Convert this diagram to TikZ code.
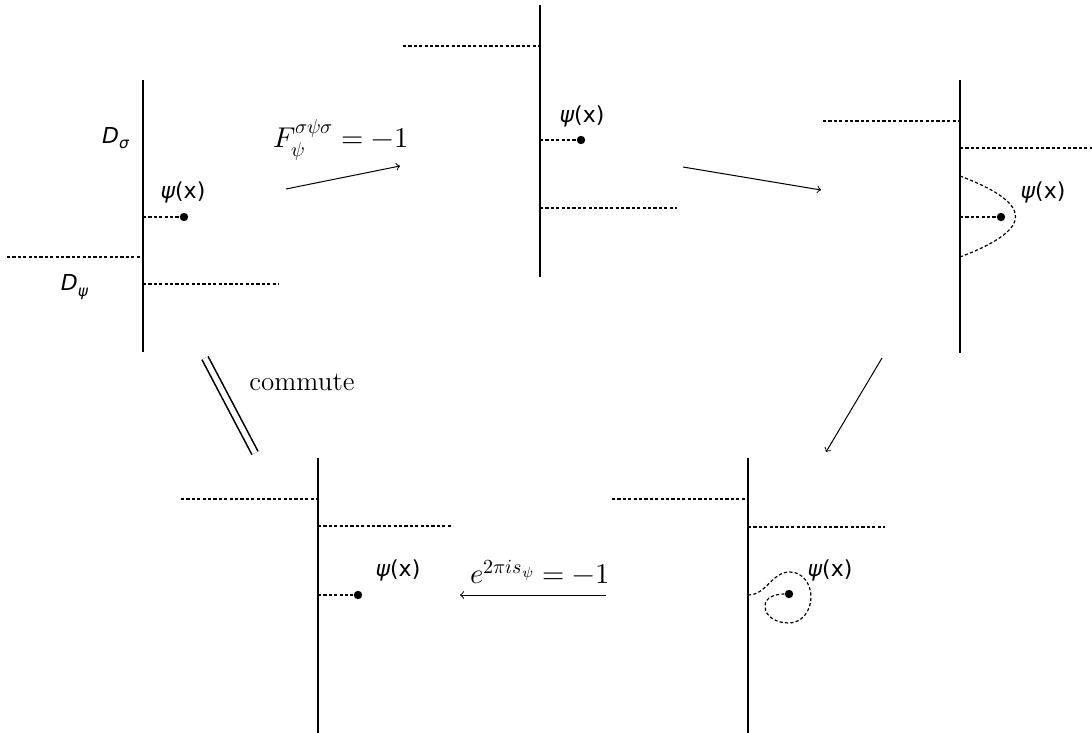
\documentclass[tikz,border=0pt]{standalone}
\usepackage{amsmath}
\usepackage{fontspec}
\usepackage{unicode-math}
\setmathfont{Latin Modern Math}
\newfontfamily\lblfont{DejaVu Sans}
\usetikzlibrary{calc}
\newcommand{\psix}{{\itshape ψ}(x)}
\newcommand{\dlbl}[1]{{\itshape D\textsubscript{#1}}}
\tikzset{
    wall/.style={line width=0.9pt},
    cut/.style={line width=0.6pt, dash pattern=on 1.6pt off 1.1pt},
    point/.style={circle, fill, inner sep=0pt, minimum size=4.2pt},
    move/.style={->, line width=0.5pt},
    lbl/.style={font=\lblfont\fontsize{11}{13}\selectfont, inner sep=0pt},
    eq/.style={font=\fontsize{14.3}{16}\selectfont, inner sep=0pt},
    word/.style={font=\fontsize{13.5}{15}\selectfont, inner sep=0pt}
}
\begin{document}
\begin{tikzpicture}[x=0.5pt, y=-0.5pt]
      \useasboundingbox (0,0) rectangle (1092,733);

      % first panel
      \path
          (143,80) coordinate (a-top)
          +(0,272) coordinate (a-bot)
          +(-136,177) coordinate (a-left)
          +(0,177) coordinate (a-left-end)
          +(0,204) coordinate (a-right)
          +(136,204) coordinate (a-right-end)
          +(0,137) coordinate (a-stem)
          +(41,137) node[point] (a-psi) {}
          +(40,112) node[lbl] (a-psi-label) {\psix}
          +(-27,58) node[lbl] (a-dsigma) {\dlbl{σ}}
          +(-68,207) node[lbl] (a-dpsi) {\dlbl{ψ}};

      \draw[wall] (a-top) -- (a-bot);
      \draw[cut] (a-left) -- (a-left-end) (a-right) -- (a-right-end) (a-stem) -- (a-psi);

      % second panel
      \path
          (540,5) coordinate (b-top)
          +(0,272) coordinate (b-bot)
          +(-137,41) coordinate (b-left)
          +(0,41) coordinate (b-left-end)
          +(0,203) coordinate (b-right)
          +(137,203) coordinate (b-right-end)
          +(0,135) coordinate (b-stem)
          +(41,135) node[point] (b-psi) {}
          +(42,111) node[lbl] (b-psi-label) {\psix};

      \draw[wall] (b-top) -- (b-bot);
      \draw[cut] (b-left) -- (b-left-end) (b-right) -- (b-right-end) (b-stem) -- (b-psi);

      % third panel
      \path
          (960,80) coordinate (c-top)
          +(0,273) coordinate (c-bot)
          +(-137,41) coordinate (c-left)
          +(0,41) coordinate (c-left-end)
          +(0,68) coordinate (c-right)
          +(132,68) coordinate (c-right-end)
          +(0,96) coordinate (c-arc-start)
          +(0,177) coordinate (c-arc-end)
          +(0,137) coordinate (c-stem)
          +(41,137) node[point] (c-psi) {}
          +(83,112) node[lbl] (c-psi-label) {\psix};

      \draw[wall] (c-top) -- (c-bot);
      \draw[cut] (c-left) -- (c-left-end) (c-right) -- (c-right-end) (c-stem) -- (c-psi);
      \draw[cut] (c-arc-start) .. controls +(74,28) and +(74,-28) .. (c-arc-end);

      % fourth panel
      \path
          (748,458) coordinate (d-top)
          +(0,275) coordinate (d-bot)
          +(-136,41) coordinate (d-left)
          +(0,41) coordinate (d-left-end)
          +(0,69) coordinate (d-right)
          +(137,69) coordinate (d-right-end)
          +(0,137) coordinate (d-stem)
          +(42,114) coordinate (d-loop-top)
          +(63,139) coordinate (d-loop-right)
          +(41,165) coordinate (d-loop-bottom)
          +(17,148) coordinate (d-loop-left)
          +(41,136) node[point] (d-psi) {}
          +(82,112) node[lbl] (d-psi-label) {\psix};

      \draw[wall] (d-top) -- (d-bot);
      \draw[cut] (d-left) -- (d-left-end) (d-right) -- (d-right-end);
      \draw[cut] (d-stem) to[out=0, in=180] (d-loop-top) to[out=0, in=90] (d-loop-right)
          to[out=-90, in=0] (d-loop-bottom) to[out=180, in=-90] (d-loop-left)
          to[out=90, in=180] (d-psi);

      % fifth panel
      \path
          (318,458) coordinate (e-top)
          +(0,275) coordinate (e-bot)
          +(-137,41) coordinate (e-left)
          +(0,41) coordinate (e-left-end)
          +(0,68) coordinate (e-right)
          +(135,68) coordinate (e-right-end)
          +(0,137) coordinate (e-stem)
          +(40,137) node[point] (e-psi) {}
          +(80,112) node[lbl] (e-psi-label) {\psix};

      \draw[wall] (e-top) -- (e-bot);
      \draw[cut] (e-left) -- (e-left-end) (e-right) -- (e-right-end) (e-stem) -- (e-psi);

      % moves between panels
      \path
          (286,189) coordinate (ab-from)
          (400,166) coordinate (ab-to)
          (341,140) node[eq] (ab-label) {$F^{\sigma\psi\sigma}_{\psi} = -1$}
          (683,167) coordinate (bc-from)
          (821,190) coordinate (bc-to)
          (882,358) coordinate (cd-from)
          (826,452) coordinate (cd-to)
          (606,595) coordinate (de-from)
          (460,595) coordinate (de-to)
          (540,572) node[eq] (de-label) {$e^{2\pi i s_{\psi}} = -1$}
          (205,358) coordinate (ea-from)
          (255,453) coordinate (ea-to)
          (302,382) node[word] (ea-label) {commute};

      \draw[move] (ab-from) -- (ab-to);
      \draw[move] (bc-from) -- (bc-to);
      \draw[move] (cd-from) -- (cd-to);
      \draw[move] (de-from) -- (de-to);
      \draw[double, double distance=2.6pt, line width=0.8pt] (ea-from) -- (ea-to);
    \end{tikzpicture}
\end{document}
